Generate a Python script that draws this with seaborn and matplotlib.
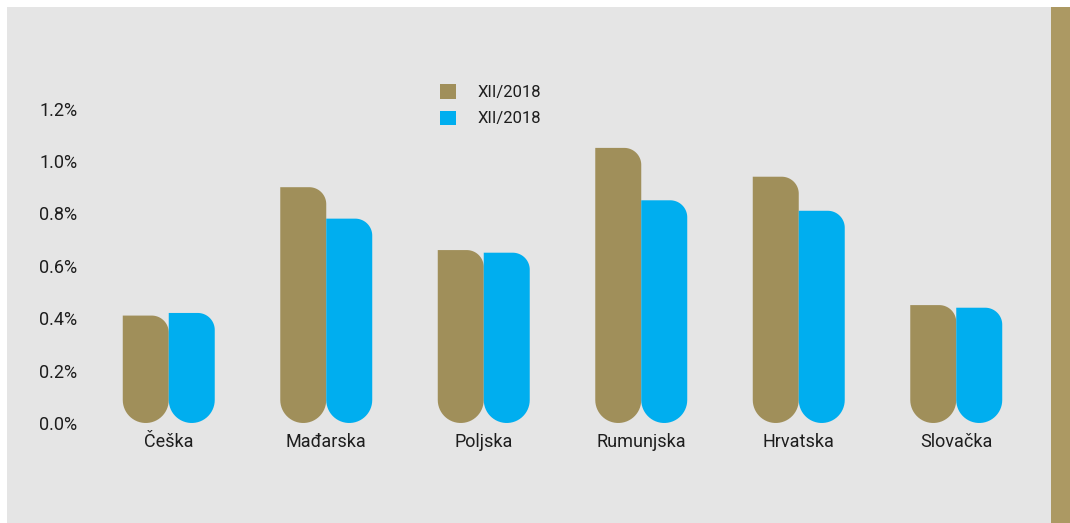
import numpy as np
import pandas as pd
import matplotlib
matplotlib.use("Agg")
import matplotlib.pyplot as plt
from matplotlib.patches import Polygon, Patch, Rectangle
from matplotlib.ticker import FuncFormatter
import seaborn as sns

# Data
countries = ["Češka", "Mađarska", "Poljska", "Rumunjska", "Hrvatska", "Slovačka"]
series_a = [0.41, 0.90, 0.66, 1.05, 0.94, 0.45]   # first period (%)
series_b = [0.42, 0.78, 0.65, 0.85, 0.81, 0.44]   # second period (%)
series_labels = ["XII/2018", "XII/2018"]
yticks = [0.0, 0.2, 0.4, 0.6, 0.8, 1.0, 1.2]

GOLD = "#a08f5a"
BLUE = "#00aeef"
PANEL = "#e5e5e5"
STRIP = "#ac9963"
TEXT = "#1e1e1e"

sns.set_theme(style="white")
plt.rcParams["font.family"] = ["Roboto", "DejaVu Sans"]

W, H = 1070, 523
fig = plt.figure(figsize=(W / 100, H / 100), dpi=100, facecolor="white")

# Background panel and right-hand accent strip
fig.patches.append(Rectangle((7 / W, 0), (1051 - 7) / W, (H - 7) / H,
                             transform=fig.transFigure, facecolor=PANEL,
                             edgecolor="none", zorder=-5))
fig.patches.append(Rectangle((1051 / W, 0), (W - 1051) / W, (H - 7) / H,
                             transform=fig.transFigure, facecolor=STRIP,
                             edgecolor="none", zorder=-5))

ax_left, ax_right = 90, 1035
zero_px, px_per_unit = 423, 262
ymax = 1.4
ax = fig.add_axes([ax_left / W, (H - zero_px) / H,
                   (ax_right - ax_left) / W, ymax * px_per_unit / H])
ax.set_facecolor("none")

df = pd.DataFrame({
    "country": countries * 2,
    "value": series_a + series_b,
    "series": ["a"] * len(countries) + ["b"] * len(countries),
})
sns.barplot(data=df, x="country", y="value", hue="series",
            palette=[GOLD, BLUE], width=0.584, gap=0, dodge=True,
            legend=False, ax=ax, errorbar=None, saturation=1)

ax.set_xlim(-0.5, len(countries) - 0.5)
ax.set_ylim(0, ymax)

# Reshape bars: square top-left, rounded top-right, rounded bottom
sx = (ax_right - ax_left) / len(countries)   # px per x unit
sy = px_per_unit                              # px per y unit


def arc(cx, cy, r_px, a0, a1, n=30):
    t = np.linspace(np.radians(a0), np.radians(a1), n)
    return np.column_stack([cx + r_px * np.cos(t) / sx,
                            cy + r_px * np.sin(t) / sy])


bars = [p for p in ax.patches if isinstance(p, Rectangle)]
for p in bars:
    x0, y0 = p.get_x(), p.get_y()
    w, h = p.get_width(), p.get_height()
    color = p.get_facecolor()
    p.remove()
    if h <= 0:
        continue
    x1, y1 = x0 + w, y0 + h
    rb = w * sx / 2          # bottom radius in px (half width)
    rt = 17                  # top-right radius in px
    pts = [np.array([[x0, y1]])]
    pts.append(arc(x1 - rt / sx, y1 - rt / sy, rt, 90, 0))
    pts.append(arc(x0 + rb / sx, y0 + rb / sy, rb, 0, -180))
    poly = Polygon(np.vstack(pts), closed=True, facecolor=color,
                   edgecolor="none", zorder=2)
    ax.add_patch(poly)

ax.set_yticks(yticks)
ax.yaxis.set_major_formatter(FuncFormatter(lambda v, _: f"{v:.1f}%"))
ax.tick_params(axis="both", length=0, labelsize=13, colors=TEXT)
ax.tick_params(axis="y", pad=9)
ax.tick_params(axis="x", pad=7)
ax.set_xlabel("")
ax.set_ylabel("")
ax.grid(False)
for s in ax.spines.values():
    s.set_visible(False)

handles = [Patch(facecolor=GOLD, edgecolor="none"),
           Patch(facecolor=BLUE, edgecolor="none")]
fig.legend(handles, series_labels, loc="upper left",
           bbox_to_anchor=(432 / W, 1 - 76 / H), frameon=False,
           handlelength=0.95, handleheight=0.95, handletextpad=1.3,
           labelspacing=0.62, borderpad=0, fontsize=12, labelcolor=TEXT)

fig.savefig("out.png", dpi=100, facecolor="white")
